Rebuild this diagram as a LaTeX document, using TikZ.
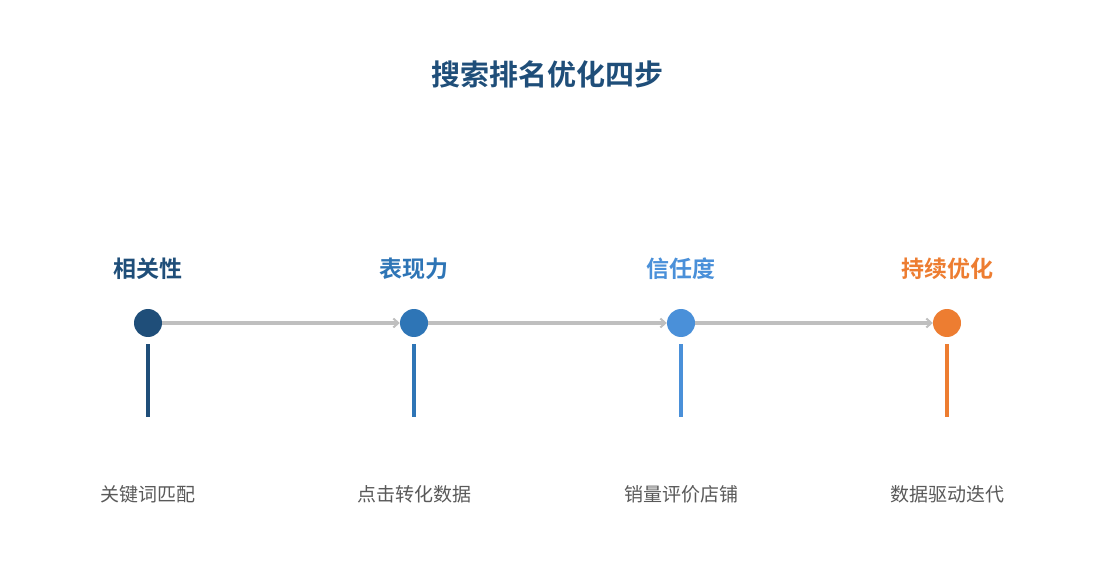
\documentclass[tikz,border=0pt]{standalone}
\usepackage{fontspec}
\newfontfamily\cjk{Noto Sans CJK SC}
\newfontfamily\cjkb{Noto Sans CJK SC Bold}
\usetikzlibrary{arrows.meta}
\definecolor{cA}{HTML}{1F4E79}
\definecolor{cB}{HTML}{2E75B6}
\definecolor{cC}{HTML}{4A90D9}
\definecolor{cD}{HTML}{ED7D31}
\definecolor{lineg}{HTML}{BFBFBF}
\definecolor{txtg}{HTML}{595959}
\begin{document}
\begin{tikzpicture}[x=1pt,y=-1pt,
  dot/.style={circle,fill=#1,minimum size=28pt,inner sep=0pt},
  steplabel/.style={font=\cjkb\fontsize{23}{25}\selectfont,text=#1},
  desc/.style={font=\cjk\fontsize{19}{21}\selectfont,text=txtg},
  bar/.style={line width=4pt,draw=#1},
  conn/.style={draw=lineg,line width=3.5pt,-{Straight Barb[length=5pt,width=9pt,line width=2pt]}}]
\useasboundingbox (0,0) rectangle (1095,585);
\node[font=\cjkb\fontsize{29}{31}\selectfont,text=cA] (title) at (547,74) {搜索排名优化四步};
\foreach \i/\x/\c/\t/\d in {1/148/cA/相关性/关键词匹配,2/414/cB/表现力/点击转化数据,3/681/cC/信任度/销量评价店铺,4/947/cD/持续优化/数据驱动迭代}{
  \node[dot=\c] (d\i) at (\x,323) {};
  \node[steplabel=\c] (l\i) at (\x,269) {\t};
  \node[desc] (t\i) at (\x,494) {\d};
  \coordinate (bt\i) at (\x,344);
  \coordinate (bb\i) at (\x,417);
  \draw[bar=\c] (bt\i) -- (bb\i);
}
\draw[conn] (d1) -- (d2);
\draw[conn] (d2) -- (d3);
\draw[conn] (d3) -- (d4);
\end{tikzpicture}
\end{document}
